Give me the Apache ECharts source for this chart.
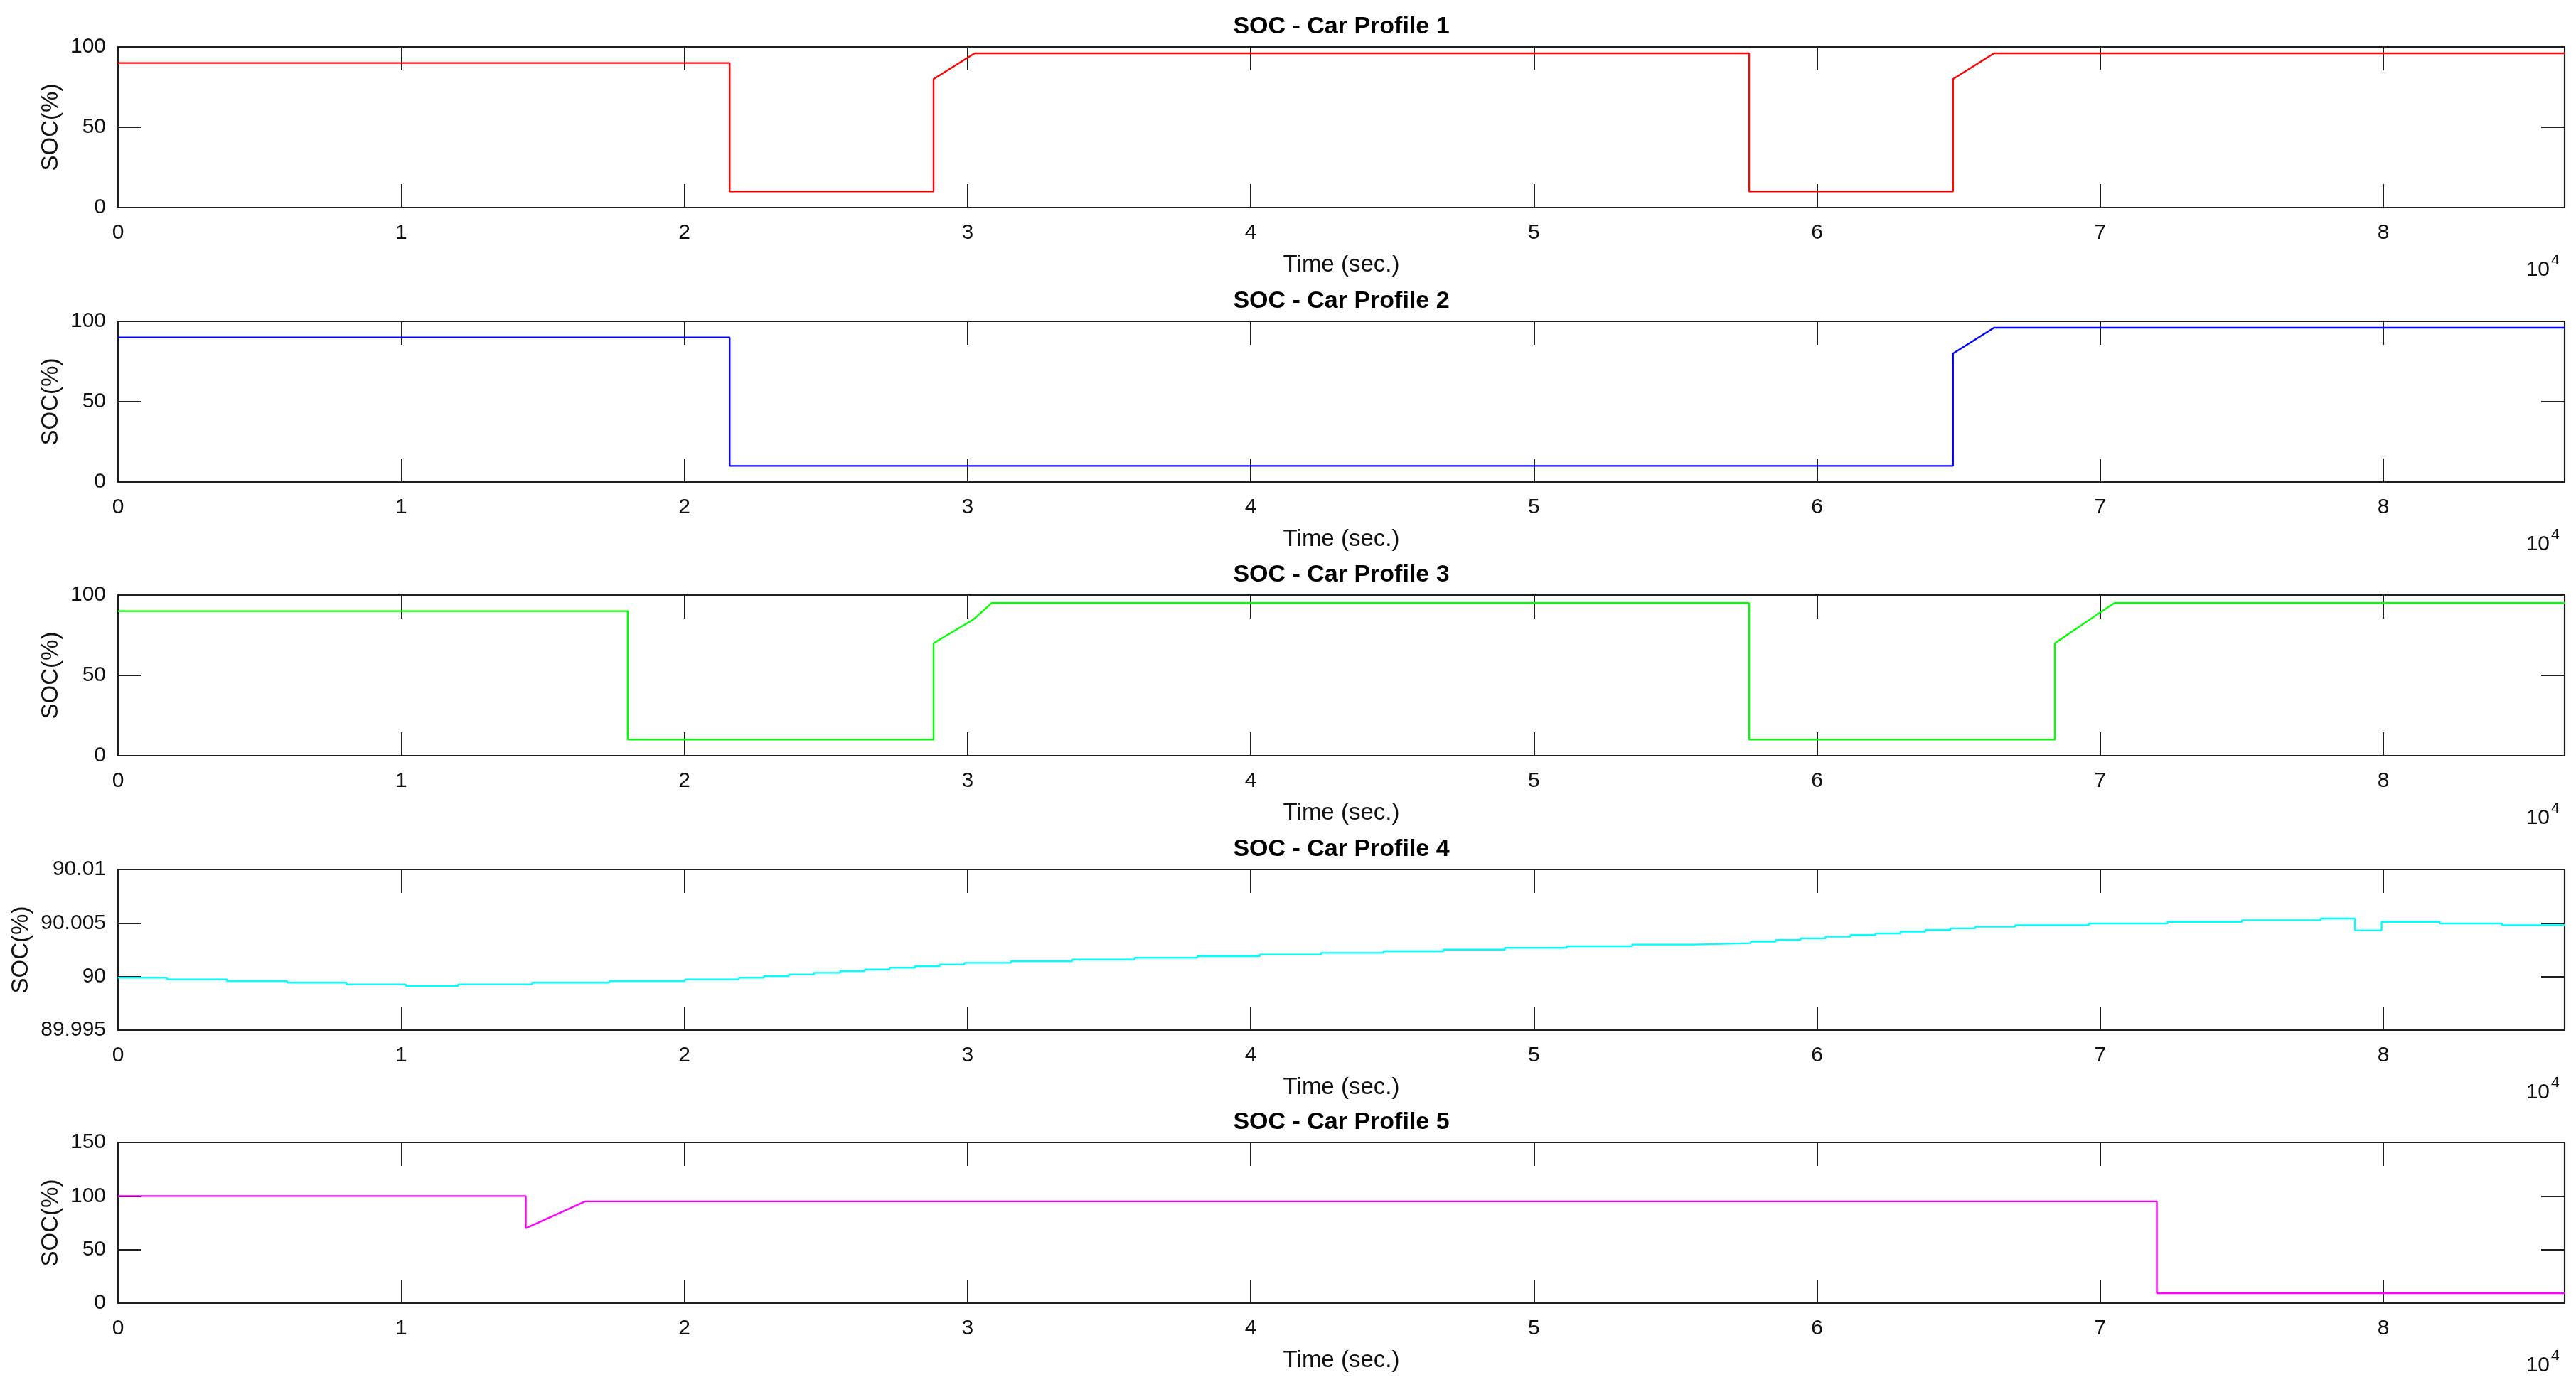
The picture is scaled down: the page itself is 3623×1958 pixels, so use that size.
<!DOCTYPE html>
<html>
<head>
<meta charset="utf-8">
<script src="https://cdn.jsdelivr.net/npm/echarts@6/dist/echarts.min.js"></script>
<style>html,body{margin:0;padding:0;background:#fff}#c{width:3623px;height:1958px}</style>
</head>
<body>
<div id="c"></div>
<script>
// ---- data (time in seconds, SOC in %) ----
const titles = ['SOC - Car Profile 1', 'SOC - Car Profile 2', 'SOC - Car Profile 3', 'SOC - Car Profile 4', 'SOC - Car Profile 5'];
const xTickLabels = ['0', '1', '2', '3', '4', '5', '6', '7', '8'];

const p1Time = [0, 21600, 21600, 28800, 28800, 30250, 57600, 57600, 64800, 64800, 66250, 86400];
const p1Soc  = [90, 90, 10, 10, 80, 96, 96, 10, 10, 80, 96, 96];

const p2Time = [0, 21600, 21600, 64800, 64800, 66250, 86400];
const p2Soc  = [90, 90, 10, 10, 80, 96, 96];

const p3Time = [0, 18000, 18000, 28800, 28800, 30200, 30850, 57600, 57600, 68400, 68400, 69900, 70500, 86400];
const p3Soc  = [90, 90, 10, 10, 70, 84.7, 95, 95, 10, 10, 70, 88, 95, 95];

const p4Time = [0, 1730, 3845, 5977, 8072, 10166, 12011, 14624, 17351, 20023, 21925, 22810, 23693, 24577, 25500,
  26370, 27245, 28140, 29014, 29888, 31533, 33697, 35904, 38110, 40317, 42482, 44688, 46811, 48976, 51162,
  53472, 55658, 57655, 58536, 59418, 60299, 61180, 62061, 62942, 63824, 64705, 65586, 66995, 69598, 72380,
  75004, 77783, 78998, 79937, 81993, 84187, 86400];
const p4Soc  = [89.99989, 89.99974, 89.99958, 89.99943, 89.99927, 89.99912, 89.99927, 89.99943, 89.99958, 89.99974,
  89.99989, 90.00004, 90.00020, 90.00035, 90.00051, 90.00066, 90.00082, 90.00097, 90.00113, 90.00128,
  90.00144, 90.00159, 90.00175, 90.00190, 90.00206, 90.00221, 90.00237, 90.00252, 90.00268, 90.00283,
  90.00299, 90.00312, 90.00326, 90.00341, 90.00357, 90.00372, 90.00388, 90.00403, 90.00419, 90.00434,
  90.00450, 90.00465, 90.00480, 90.00496, 90.00511, 90.00526, 90.00542, 90.00432, 90.00511, 90.00496,
  90.00480, 90.00480];

const p5Time = [0, 14400, 14400, 16500, 72000, 72000, 86400];
const p5Soc  = [100, 100, 70, 95, 95, 9.3, 9.3];

const yMin = [0, 0, 0, 89.995, 0];
const yMax = [100, 100, 100, 90.01, 150];
const yInterval = [50, 50, 50, 0.005, 50];

// ---- styling / layout ----
const colors = ['#ff0000', '#0000ff', '#00ff00', '#00ffff', '#ff00ff'];
const times = [p1Time, p2Time, p3Time, p4Time, p5Time];
const socs = [p1Soc, p2Soc, p3Soc, p4Soc, p5Soc];
const steps = [false, false, false, 'end', false];
const tops = [66, 452, 837, 1223, 1607];
const plotLeft = 166, plotRight = 16, plotH = 226;
const plotCenter = (plotLeft + (3623 - plotRight)) / 2;
const yNameGap = [76, 76, 76, 118, 76];
const FONT = '"Liberation Sans", Arial, Helvetica, sans-serif';
const lineCol = '#1e1e1e';
const textCol = '#111';

const grids = [], xAxes = [], yAxes = [], series = [], titleArr = [], graphics = [];
for (let i = 0; i < 5; i++) {
  grids.push({left: plotLeft, right: plotRight, top: tops[i], height: plotH, containLabel: false, outerBoundsMode: 'none', show: false});
  const axLine = {show: true, onZero: false, lineStyle: {color: lineCol, width: 2.2}};
  const tick = {show: true, inside: true, length: 33, lineStyle: {color: lineCol, width: 2}};
  xAxes.push({
    gridIndex: i, type: 'value', position: 'bottom', min: 0, max: 86400, interval: 10000,
    axisLine: axLine, axisTick: tick, splitLine: {show: false},
    axisLabel: {margin: 21, color: textCol, fontFamily: FONT, fontSize: 30,
      formatter: v => (v % 10000 === 0 ? xTickLabels[v / 10000] : '')},
    name: 'Time (sec.)', nameLocation: 'middle', nameGap: 64,
    nameTextStyle: {color: textCol, fontFamily: FONT, fontSize: 33}
  });
  xAxes.push({
    gridIndex: i, type: 'value', position: 'top', min: 0, max: 86400, interval: 10000,
    axisLine: axLine, axisTick: tick, splitLine: {show: false}, axisLabel: {show: false}
  });
  yAxes.push({
    gridIndex: i, type: 'value', position: 'left', min: yMin[i], max: yMax[i], interval: yInterval[i],
    axisLine: axLine, axisTick: tick, splitLine: {show: false},
    axisLabel: {margin: 17, color: textCol, fontFamily: FONT, fontSize: 30, padding: [7, 0, 0, 0],
      formatter: v => String(parseFloat(Number(v).toFixed(3)))},
    name: 'SOC(%)', nameLocation: 'middle', nameGap: yNameGap[i], nameRotate: 90,
    nameTextStyle: {color: textCol, fontFamily: FONT, fontSize: 33}
  });
  yAxes.push({
    gridIndex: i, type: 'value', position: 'right', min: yMin[i], max: yMax[i], interval: yInterval[i],
    axisLine: axLine, axisTick: tick, splitLine: {show: false}, axisLabel: {show: false}
  });
  series.push({
    type: 'line', xAxisIndex: 2 * i, yAxisIndex: 2 * i,
    data: times[i].map((t, k) => [t, socs[i][k]]),
    step: steps[i], showSymbol: false, symbol: 'none', clip: true,
    lineStyle: {color: colors[i], width: 2.4}, itemStyle: {color: colors[i]},
    silent: true
  });
  titleArr.push({
    text: titles[i], left: plotCenter, top: tops[i] - 45, textAlign: 'center', padding: 0,
    textStyle: {color: '#000', fontFamily: FONT, fontSize: 34, fontWeight: 'bold'}
  });
  const bottom = tops[i] + plotH;
  graphics.push({type: 'text', x: 3586, y: bottom + 88, silent: true,
    style: {text: '10', font: '30px ' + FONT, fill: textCol, textAlign: 'right', textVerticalAlign: 'middle'}});
  graphics.push({type: 'text', x: 3588, y: bottom + 74, silent: true,
    style: {text: '4', font: '21px ' + FONT, fill: textCol, textAlign: 'left', textVerticalAlign: 'middle'}});
}

const chart = echarts.init(document.getElementById('c'), null, {renderer: 'canvas'});
chart.setOption({
  backgroundColor: '#ffffff',
  animation: false,
  title: titleArr,
  grid: grids,
  xAxis: xAxes,
  yAxis: yAxes,
  series: series,
  graphic: graphics
});
</script>
</body>
</html>
